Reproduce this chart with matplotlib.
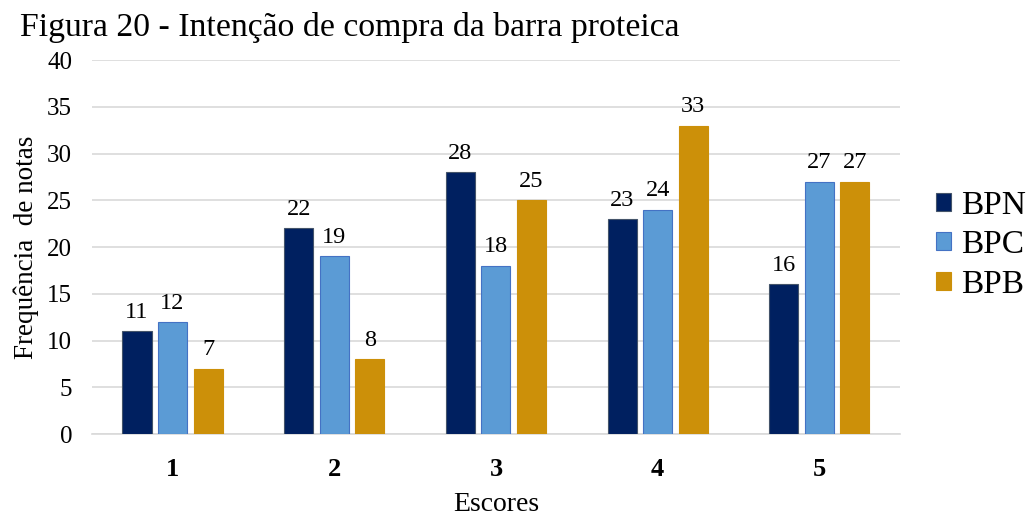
import matplotlib.pyplot as plt
import numpy as np

plt.rcParams['font.family'] = ['Liberation Serif', 'DejaVu Serif']

scores = ['1', '2', '3', '4', '5']
series = ['BPN', 'BPC', 'BPB']
bpn = [11, 22, 28, 23, 16]
bpc = [12, 19, 18, 24, 27]
bpb = [7, 8, 25, 33, 27]
colors = ['#002060', '#5B9BD5', '#CC9009']
edges = ['#44546A', '#4472C4', '#CC9009']

fig = plt.figure(figsize=(10.3, 5.18), dpi=100)
ax = fig.add_axes([0.089, 0.162, 0.785, 0.722])

x = np.arange(len(scores))
width = 0.18
offsets = [-0.22, 0, 0.22]
for vals, name, c, ec, off in zip([bpn, bpc, bpb], series, colors, edges, offsets):
    bars = ax.bar(x + off, vals, width, color=c, edgecolor=ec, linewidth=0.8,
                  label=name, zorder=3)
    ax.bar_label(bars, padding=6, fontsize=17.5)

ax.set_xlim(-0.5, 4.5)
ax.set_ylim(0, 40)
ax.set_yticks(range(0, 41, 5))
ax.set_xticks(x)
ax.set_xticklabels(scores, fontsize=19, fontweight='bold')
ax.tick_params(axis='y', labelsize=18, length=0, pad=14)
ax.tick_params(axis='x', length=0, pad=17)
ax.grid(axis='y', color='#d9d9d9', linewidth=1.2, zorder=0)
for s in ['top', 'right', 'left']:
    ax.spines[s].set_visible(False)
ax.spines['bottom'].set_color('#d9d9d9')
ax.spines['bottom'].set_linewidth(1.2)

ax.set_xlabel('Escores', fontsize=20, labelpad=8)
ax.set_ylabel('Frequência  de notas', fontsize=19.5, labelpad=6)

fig.text(0.019, 0.93, 'Figura 20 - Intenção de compra da barra proteica', fontsize=24.3)

fig.legend(*ax.get_legend_handles_labels(), loc='center left',
           bbox_to_anchor=(0.896, 0.527), bbox_transform=fig.transFigure,
           frameon=False, fontsize=24, handlelength=0.45, handleheight=0.45,
           handletextpad=0.3, labelspacing=0.27, borderaxespad=0)

fig.savefig('out.png', dpi=100)
